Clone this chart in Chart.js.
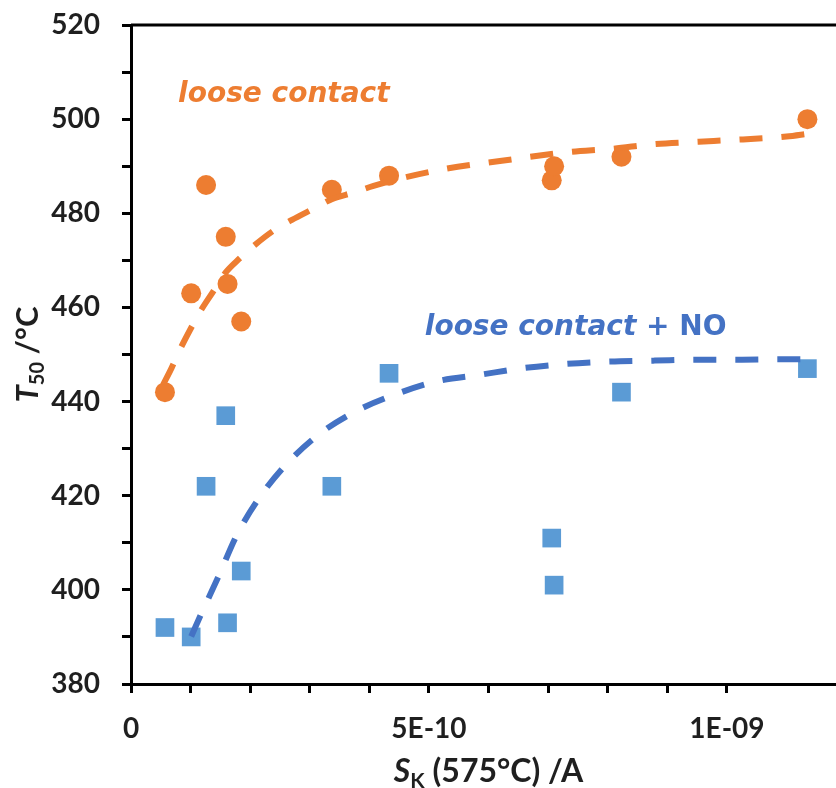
<!DOCTYPE html>
<html>
<head>
<meta charset="utf-8">
<script src="https://cdn.jsdelivr.net/npm/chart.js@4.4.0/dist/chart.umd.min.js"></script>
<style>
  html, body { margin: 0; padding: 0; overflow: hidden; background: #ffffff; }
  #wrap { position: relative; width: 836px; height: 788px; }
</style>
</head>
<body>
<div id="wrap"><canvas id="chart"></canvas></div>
<script>
// Sample charge S_K at 575 °C (A) and the T50 of each sample
const sampleCharge = [0.57e-10, 1.01e-10, 1.26e-10, 1.59e-10, 1.62e-10, 1.85e-10,
                      3.37e-10, 4.33e-10, 7.06e-10, 7.10e-10, 8.23e-10, 11.35e-10];
const t50Loose   = [442, 463, 486, 475, 465, 457, 485, 488, 487, 490, 492, 500];
const t50LooseNO = [392, 390, 422, 437, 393, 404, 422, 446, 411, 401, 442, 447];

// Guide curves through each data set
const trendLooseX = [0.54e-10, 0.68e-10, 0.82e-10, 0.99e-10, 1.16e-10, 1.37e-10, 1.58e-10,
                     1.83e-10, 2.08e-10, 2.39e-10, 2.70e-10, 3.05e-10, 3.37e-10, 3.73e-10,
                     4.07e-10, 4.46e-10, 5.30e-10, 6.19e-10, 7.34e-10, 8.07e-10, 8.79e-10,
                     9.53e-10, 10.27e-10, 11.00e-10, 11.36e-10];
const trendLooseT = [443.6, 447.1, 451.0, 455.2, 459.1, 463.2, 467.3, 470.5, 473.3, 476.3,
                     478.6, 480.9, 483.0, 484.4, 485.8, 487.2, 489.5, 491.1, 493.0, 493.7,
                     494.7, 495.2, 495.7, 496.3, 496.9];
const trendNOX = [1.01e-10, 1.16e-10, 1.47e-10, 1.77e-10, 2.15e-10, 2.60e-10, 3.15e-10,
                  3.75e-10, 4.41e-10, 5.13e-10, 5.86e-10, 6.58e-10, 7.31e-10, 8.04e-10,
                  8.79e-10, 9.52e-10, 10.25e-10, 10.97e-10, 11.34e-10];
const trendNOT = [390.1, 394.4, 402.9, 411.5, 419.5, 426.6, 433.0, 437.8, 441.4, 444.3,
                  445.7, 447.1, 448.0, 448.5, 448.7, 448.9, 448.9, 449.0, 449.0];

// Axis ticks
const yTickValues = [380, 400, 420, 440, 460, 480, 500, 520];
const xTickText = ['0', '5E-10', '1E-09'];   // every fifth minor tick (5E-10 apart)
const X_STEP = 1e-10;
const X_MAX = 1.183e-9;                      // frame runs on past the last minor tick
const X_TITLE_CENTER = 6e-10;                // axis title centred on the full 0–1.2E-09 span

// Series captions and where they sit (data coordinates of the text start / baseline)
const looseCaption = ['loose contact'];
const looseNOCaption = ['loose contact', ' + NO'];
const looseCaptionAt = [0.79e-10, 503.6];
const looseNOCaptionAt = [4.93e-10, 454.2];

const ORANGE = '#ED7D31';
const BLUE_PT = '#5B9BD5';
const BLUE_LN = '#4472C4';
const INK = '#1f1f1f';
const TICK_FONT = 'Lato';

const toXY = (xs, ys) => xs.map((x, i) => ({ x: x, y: ys[i] }));

// Draws rich text runs one after another
function runsWidth(ctx, runs) {
  let w = 0;
  for (const r of runs) { ctx.font = r.font; w += ctx.measureText(r.text).width; }
  return w;
}
function drawRuns(ctx, runs, x, y) {
  let cx = x;
  for (const r of runs) {
    ctx.font = r.font;
    ctx.fillText(r.text, cx, y + (r.dy || 0));
    cx += ctx.measureText(r.text).width;
  }
}

const figureText = {
  id: 'figureText',
  afterDraw(chart) {
    const ctx = chart.ctx;
    const a = chart.chartArea;
    const xs = chart.scales.x, ys = chart.scales.y;
    ctx.save();

    // upper frame line
    ctx.strokeStyle = '#000';
    ctx.lineWidth = 3;
    ctx.beginPath();
    ctx.moveTo(a.left, a.top);
    ctx.lineTo(chart.width, a.top);
    ctx.stroke();

    ctx.textBaseline = 'alphabetic';
    ctx.textAlign = 'left';

    // series captions
    ctx.fillStyle = ORANGE;
    drawRuns(ctx, [{ text: looseCaption[0], font: 'italic bold 28px "DejaVu Sans"' }],
      xs.getPixelForValue(looseCaptionAt[0]), ys.getPixelForValue(looseCaptionAt[1]));
    ctx.fillStyle = BLUE_LN;
    drawRuns(ctx, [
      { text: looseNOCaption[0], font: 'italic bold 28px "DejaVu Sans"' },
      { text: looseNOCaption[1], font: 'bold 28px "DejaVu Sans"' }
    ], xs.getPixelForValue(looseNOCaptionAt[0]), ys.getPixelForValue(looseNOCaptionAt[1]));

    // axis titles
    ctx.fillStyle = INK;
    const yRuns = [
      { text: 'T', font: 'italic bold 31px ' + TICK_FONT },
      { text: '50', font: 'bold 20px ' + TICK_FONT, dy: 6 },
      { text: ' /°C', font: 'bold 31px ' + TICK_FONT }
    ];
    const yw = runsWidth(ctx, yRuns);
    ctx.save();
    ctx.translate(38, (a.top + a.bottom) / 2);
    ctx.rotate(-Math.PI / 2);
    drawRuns(ctx, yRuns, -yw / 2, 0);
    ctx.restore();

    const xRuns = [
      { text: 'S', font: 'italic bold 32px ' + TICK_FONT },
      { text: 'K', font: 'bold 21px ' + TICK_FONT, dy: 6 },
      { text: ' (575°C) /A', font: 'bold 32px ' + TICK_FONT }
    ];
    const xw = runsWidth(ctx, xRuns);
    drawRuns(ctx, xRuns, xs.getPixelForValue(X_TITLE_CENTER) - xw / 2, 782);

    ctx.restore();
  }
};

new Chart(document.getElementById('chart'), {
  type: 'scatter',
  data: {
    datasets: [
      {
        label: 'loose contact',
        data: toXY(sampleCharge, t50Loose),
        backgroundColor: ORANGE,
        borderWidth: 0,
        pointStyle: 'circle',
        pointRadius: 10,
        order: 2
      },
      {
        label: 'loose contact + NO',
        data: toXY(sampleCharge, t50LooseNO),
        backgroundColor: BLUE_PT,
        borderWidth: 0,
        pointStyle: 'rect',
        pointRadius: 13.2,
        order: 2
      },
      {
        type: 'line',
        data: toXY(trendLooseX, trendLooseT),
        borderColor: ORANGE,
        borderWidth: 6,
        borderDash: [23, 19],
        borderCapStyle: 'butt',
        cubicInterpolationMode: 'monotone',
        pointRadius: 0,
        fill: false,
        order: 1
      },
      {
        type: 'line',
        data: toXY(trendNOX, trendNOT),
        borderColor: BLUE_LN,
        borderWidth: 6,
        borderDash: [23, 19],
        borderCapStyle: 'butt',
        cubicInterpolationMode: 'monotone',
        pointRadius: 0,
        fill: false,
        order: 1
      }
    ]
  },
  options: {
    responsive: true,
    maintainAspectRatio: false,
    animation: false,
    events: [],
    layout: { autoPadding: false, padding: { left: 0, top: 25, right: 0, bottom: 0 } },
    plugins: { legend: { display: false }, tooltip: { enabled: false } },
    scales: {
      x: {
        type: 'linear',
        min: 0,
        max: X_MAX,
        afterBuildTicks(s) {
          s.ticks = s.ticks.filter(t => Math.abs(t.value / X_STEP - Math.round(t.value / X_STEP)) < 1e-6);
        },
        afterFit(s) {
          s.height = 104;
          s.paddingLeft = 0; s.paddingRight = 0; s.paddingTop = 0; s.paddingBottom = 0;
        },
        border: { display: true, color: '#000', width: 3 },
        grid: { display: true, drawOnChartArea: false, drawTicks: true, tickLength: 9, tickWidth: 3, tickColor: '#000' },
        ticks: {
          stepSize: X_STEP,
          autoSkip: false,
          maxRotation: 0,
          padding: 19,
          color: INK,
          font: { family: TICK_FONT, size: 28, weight: 'bold' },
          callback(v) {
            const n = Math.round(v / X_STEP);
            return n % 5 === 0 && xTickText[n / 5] !== undefined ? xTickText[n / 5] : '';
          }
        }
      },
      y: {
        min: 380,
        max: 520,
        afterFit(s) {
          s.width = 131;
          s.paddingLeft = 0; s.paddingRight = 0; s.paddingTop = 0; s.paddingBottom = 0;
        },
        border: { display: true, color: '#000', width: 3 },
        grid: { display: true, drawOnChartArea: false, drawTicks: true, tickLength: 9, tickWidth: 3, tickColor: '#000' },
        ticks: {
          stepSize: 10,
          autoSkip: false,
          padding: 22,
          color: INK,
          font: { family: TICK_FONT, size: 28, weight: 'bold' },
          callback(v) { return yTickValues.includes(v) ? String(v) : ''; }
        }
      }
    }
  },
  plugins: [figureText]
});
</script>
</body>
</html>
